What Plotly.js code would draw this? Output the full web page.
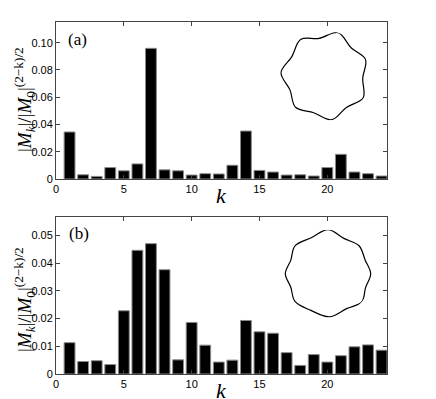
<!DOCTYPE html>
<html>
<head>
<meta charset="utf-8">
<script src="https://cdn.plot.ly/plotly-3.0.1.min.js"></script>
<style>
  html, body { margin: 0; padding: 0; background: #fff; }
  #plot { width: 436px; height: 399px; }
</style>
</head>
<body>
<div id="plot"></div>
<script>
// mode index k, shared by both panels
const kVals = [1, 2, 3, 4, 5, 6, 7, 8, 9, 10, 11, 12, 13, 14, 15, 16, 17, 18, 19, 20, 21, 22, 23, 24];

// |M_k| / |M_0|^((2-k)/2), panel (a)
const magA = [0.0345, 0.0031, 0.0019, 0.0084, 0.0060, 0.0111, 0.0959, 0.0067, 0.0060, 0.0029, 0.0039, 0.0037,
              0.0101, 0.0352, 0.0063, 0.0051, 0.0029, 0.0031, 0.0022, 0.0084, 0.0181, 0.0051, 0.0039, 0.0022];
// panel (b)
const magB = [0.0113, 0.0045, 0.0048, 0.0034, 0.0228, 0.0446, 0.0470, 0.0376, 0.0051, 0.0186, 0.0104, 0.0043,
              0.0050, 0.0193, 0.0152, 0.0147, 0.0077, 0.0031, 0.0070, 0.0043, 0.0066, 0.0098, 0.0105, 0.0086];

// tick labels
const xTicks = [0, 5, 10, 15, 20];
const yTicksA = [0, 0.02, 0.04, 0.06, 0.08, 0.10];
const yTextA = ['0', '0.02', '0.04', '0.06', '0.08', '0.10'];
const yTicksB = [0, 0.01, 0.02, 0.03, 0.04, 0.05];
const yTextB = ['0', '0.01', '0.02', '0.03', '0.04', '0.05'];

// inset outlines as (angle deg, radius) points
const shapeThetaA = [73, 99, 124, 150, 176, 202, 227, 253, 279, 304, 330, 356, 22, 47, 73];
const shapeRA     = [1.00, 0.84, 0.97, 0.85, 0.98, 0.84, 0.96, 0.86, 0.99, 0.85, 0.98, 0.84, 0.97, 0.85, 1.00];
const shapeThetaB = [90, 65, 42, 20, 0, -20, -40, -62, -88, -115, -140, -160, -180, 160, 140, 115, 90];
const shapeRB     = [1.00, 0.88, 0.95, 0.90, 0.97, 0.91, 1.00, 0.90, 0.98, 0.92, 0.98, 0.90, 0.97, 0.90, 0.98, 0.90, 1.00];

const W = 436, H = 399;
const tickFont = {family: 'Liberation Sans, Arial, sans-serif', size: 11, color: '#000'};
const serif = 'Liberation Serif, Times New Roman, serif';

function bars(y, xa, ya){
	return {
		type: 'bar', x: kVals, y: y, xaxis: xa, yaxis: ya, width: 0.8,
		marker: {color: '#000', line: {color: '#8a8a8a', width: 1}},
		hoverinfo: 'x+y', showlegend: false
	};
}

function outline(theta, r, sub){
	return {
		type: 'scatterpolar', theta: theta, r: r, subplot: sub, mode: 'lines',
		line: {color: '#000', width: 1.2, shape: 'spline', smoothing: 1},
		hoverinfo: 'skip', showlegend: false
	};
}

function xAxis(anchor){
	return {
		domain: [56/W, 387/W], range: [0, 24.4], anchor: anchor,
		tickvals: xTicks, ticks: 'inside', ticklen: 4, tickcolor: '#444',
		showline: true, linecolor: '#444', linewidth: 1, mirror: 'ticks',
		showgrid: false, zeroline: false, tickfont: tickFont
	};
}

function yAxis(anchor, top, bottom, range, vals, text){
	return {
		domain: [1 - bottom/H, 1 - top/H], range: range, anchor: anchor,
		tickvals: vals, ticktext: text, ticks: 'inside', ticklen: 4, tickcolor: '#444',
		showline: true, linecolor: '#444', linewidth: 1, mirror: 'ticks',
		showgrid: false, zeroline: false, tickfont: tickFont
	};
}

function polarBox(cx, cy, rad){
	return {
		domain: {x: [(cx - rad)/W, (cx + rad)/W], y: [1 - (cy + rad)/H, 1 - (cy - rad)/H]},
		bgcolor: 'rgba(0,0,0,0)',
		radialaxis: {visible: false, range: [0, 1.0]},
		angularaxis: {visible: false}
	};
}

function note(text, px, py, size, angle){
	return {
		text: text, xref: 'paper', yref: 'paper', x: px/W, y: 1 - py/H,
		xanchor: 'center', yanchor: 'middle', textangle: angle || 0,
		showarrow: false, font: {family: serif, size: size, color: '#000'}
	};
}

const yLabel = '|<i>M<sub>k</sub></i>|/|<i>M</i><sub>0</sub>|<sup>(2−k)/2</sup>';

const data = [
	bars(magA, 'x', 'y'),
	bars(magB, 'x2', 'y2'),
	outline(shapeThetaA, shapeRA, 'polar'),
	outline(shapeThetaB, shapeRB, 'polar2')
];

const layout = {
	width: W, height: H,
	margin: {l: 0, r: 0, t: 0, b: 0},
	paper_bgcolor: '#fff', plot_bgcolor: '#fff',
	xaxis: xAxis('y'),
	yaxis: yAxis('x', 22.3, 179, [0, 0.115], yTicksA, yTextA),
	xaxis2: xAxis('y2'),
	yaxis2: yAxis('x2', 217.3, 374, [0, 0.0565], yTicksB, yTextB),
	polar: polarBox(325, 75.7, 45),
	polar2: polarBox(328, 273.7, 44),
	bargap: 0,
	annotations: [
		note(yLabel, 24, 100, 19, -90),
		note(yLabel, 24, 300, 19, -90),
		note('<i>k</i>', 221, 195, 22),
		note('<i>k</i>', 221, 390, 22),
		note('(a)', 77, 39, 17),
		note('(b)', 79, 233, 17)
	]
};

Plotly.newPlot('plot', data, layout, {displayModeBar: false, staticPlot: true});
</script>
</body>
</html>
